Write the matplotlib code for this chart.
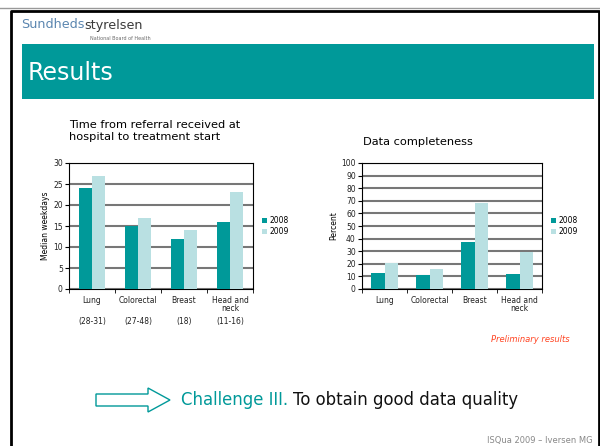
import numpy as np
import matplotlib.pyplot as plt
from matplotlib.patches import Rectangle, FancyArrow

# data
categories = ['Lung', 'Colorectal', 'Breast', 'Head and\nneck']
n_patients = ['(28-31)', '(27-48)', '(18)', '(11-16)']
time_2008 = [24, 15, 12, 16]
time_2009 = [27, 17, 14, 23]
compl_2008 = [13, 11, 37, 12]
compl_2009 = [21, 16, 68, 29]

teal = '#009999'
light = '#b9e0e2'
W, H = 600, 446

fig = plt.figure(figsize=(6, 4.46), dpi=100)


def box(x0, y0, x1, y1):
    # pixel box (top-left origin) -> figure fraction
    return [x0 / W, 1 - y1 / H, (x1 - x0) / W, (y1 - y0) / H]


# slide frame and header
bg = fig.add_axes([0, 0, 1, 1])
bg.set_xlim(0, W)
bg.set_ylim(H, 0)
bg.axis('off')
bg.plot([0, W], [8, 8], color='#999999', lw=1)
bg.plot([10.5, 10.5, 598.5, 598.5], [H, 10.5, 10.5, H], color='black', lw=2)
bg.add_patch(Rectangle((22, 44), 572, 55, color=teal, lw=0))

r = fig.canvas.get_renderer()


def chain(x, y, parts, **kw):
    # put several coloured pieces of text one after another
    for s, c in parts:
        t = bg.text(x, y, s, color=c, va='center', **kw)
        bb = t.get_window_extent(renderer=r)
        x += bb.width


chain(21, 25, [('Sundheds', '#5b86b0'), ('styrelsen', '#3a3a3a')], fontsize=9.2)
bg.text(90, 39, 'National Board of Health', color='#6a6a6a', fontsize=3.5, va='center')
bg.text(28, 73, 'Results', color='white', fontsize=17, va='center')
bg.text(530, 340, 'Preliminary results', color='#ff4422', fontsize=6,
        style='italic', ha='center', va='center')
bg.add_patch(FancyArrow(96, 400, 52, 0, width=12, head_width=24, head_length=22,
                        length_includes_head=False, fc='white', ec=teal, lw=1))
chain(181, 400, [('Challenge III. ', teal), ('To obtain good data quality', '#111111')],
      fontsize=11.9)
bg.text(487, 441, 'ISQua 2009 \u2013 Iversen MG', color='#888888', fontsize=6, va='center')


def bar_chart(rect, v08, v09, ymax, step, ylabel, title, title_xy, leg_xy):
    ax = fig.add_axes(box(*rect))
    x = np.arange(len(categories))
    w = 0.29
    ax.bar(x - w / 2, v08, w, color=teal, label='2008', zorder=3)
    ax.bar(x + w / 2, v09, w, color=light, label='2009', zorder=3)
    ax.set_xlim(-0.5, len(categories) - 0.5)
    ax.set_ylim(0, ymax)
    ax.set_yticks(np.arange(0, ymax + 1, step))
    ax.yaxis.grid(True, color='#777777', lw=1.5, zorder=0)
    ax.set_xticks(x)
    ax.set_xticklabels(categories, fontsize=5.5, color='#222222', linespacing=0.9)
    ax.set_xticks(np.arange(-0.5, len(categories)), minor=True)
    ax.tick_params(axis='x', which='major', length=0, pad=5)
    ax.tick_params(axis='x', which='minor', length=3, direction='out')
    ax.tick_params(axis='y', labelsize=5.5, length=3, pad=1.5, labelcolor='#222222')
    for s in ax.spines.values():
        s.set_linewidth(0.8)
    ax.set_ylabel(ylabel, fontsize=5.5, labelpad=2)
    bg.text(title_xy[0], title_xy[1], title, fontsize=8.2, va='top', linespacing=1.25)
    ax.legend(loc='center left', bbox_to_anchor=leg_xy, frameon=False, fontsize=5.5,
              handlelength=0.6, handleheight=0.6, handletextpad=0.4, labelspacing=0.3,
              borderpad=0)
    return ax


ax1 = bar_chart((69, 163, 253, 289), time_2008, time_2009, 30, 5, 'Median weekdays',
                'Time from referral received at\nhospital to treatment start', (69, 120),
                (1.03, 0.5))
for i, lab in enumerate(n_patients):
    ax1.text(i, -0.26, lab, transform=ax1.get_xaxis_transform(), ha='center',
             va='center', fontsize=5.5, color='#222222')

ax2 = bar_chart((362, 163, 542, 289), compl_2008, compl_2009, 100, 10, 'Percent',
                'Data completeness', (363, 137), (1.03, 0.5))

fig.savefig('out.png', dpi=100)
